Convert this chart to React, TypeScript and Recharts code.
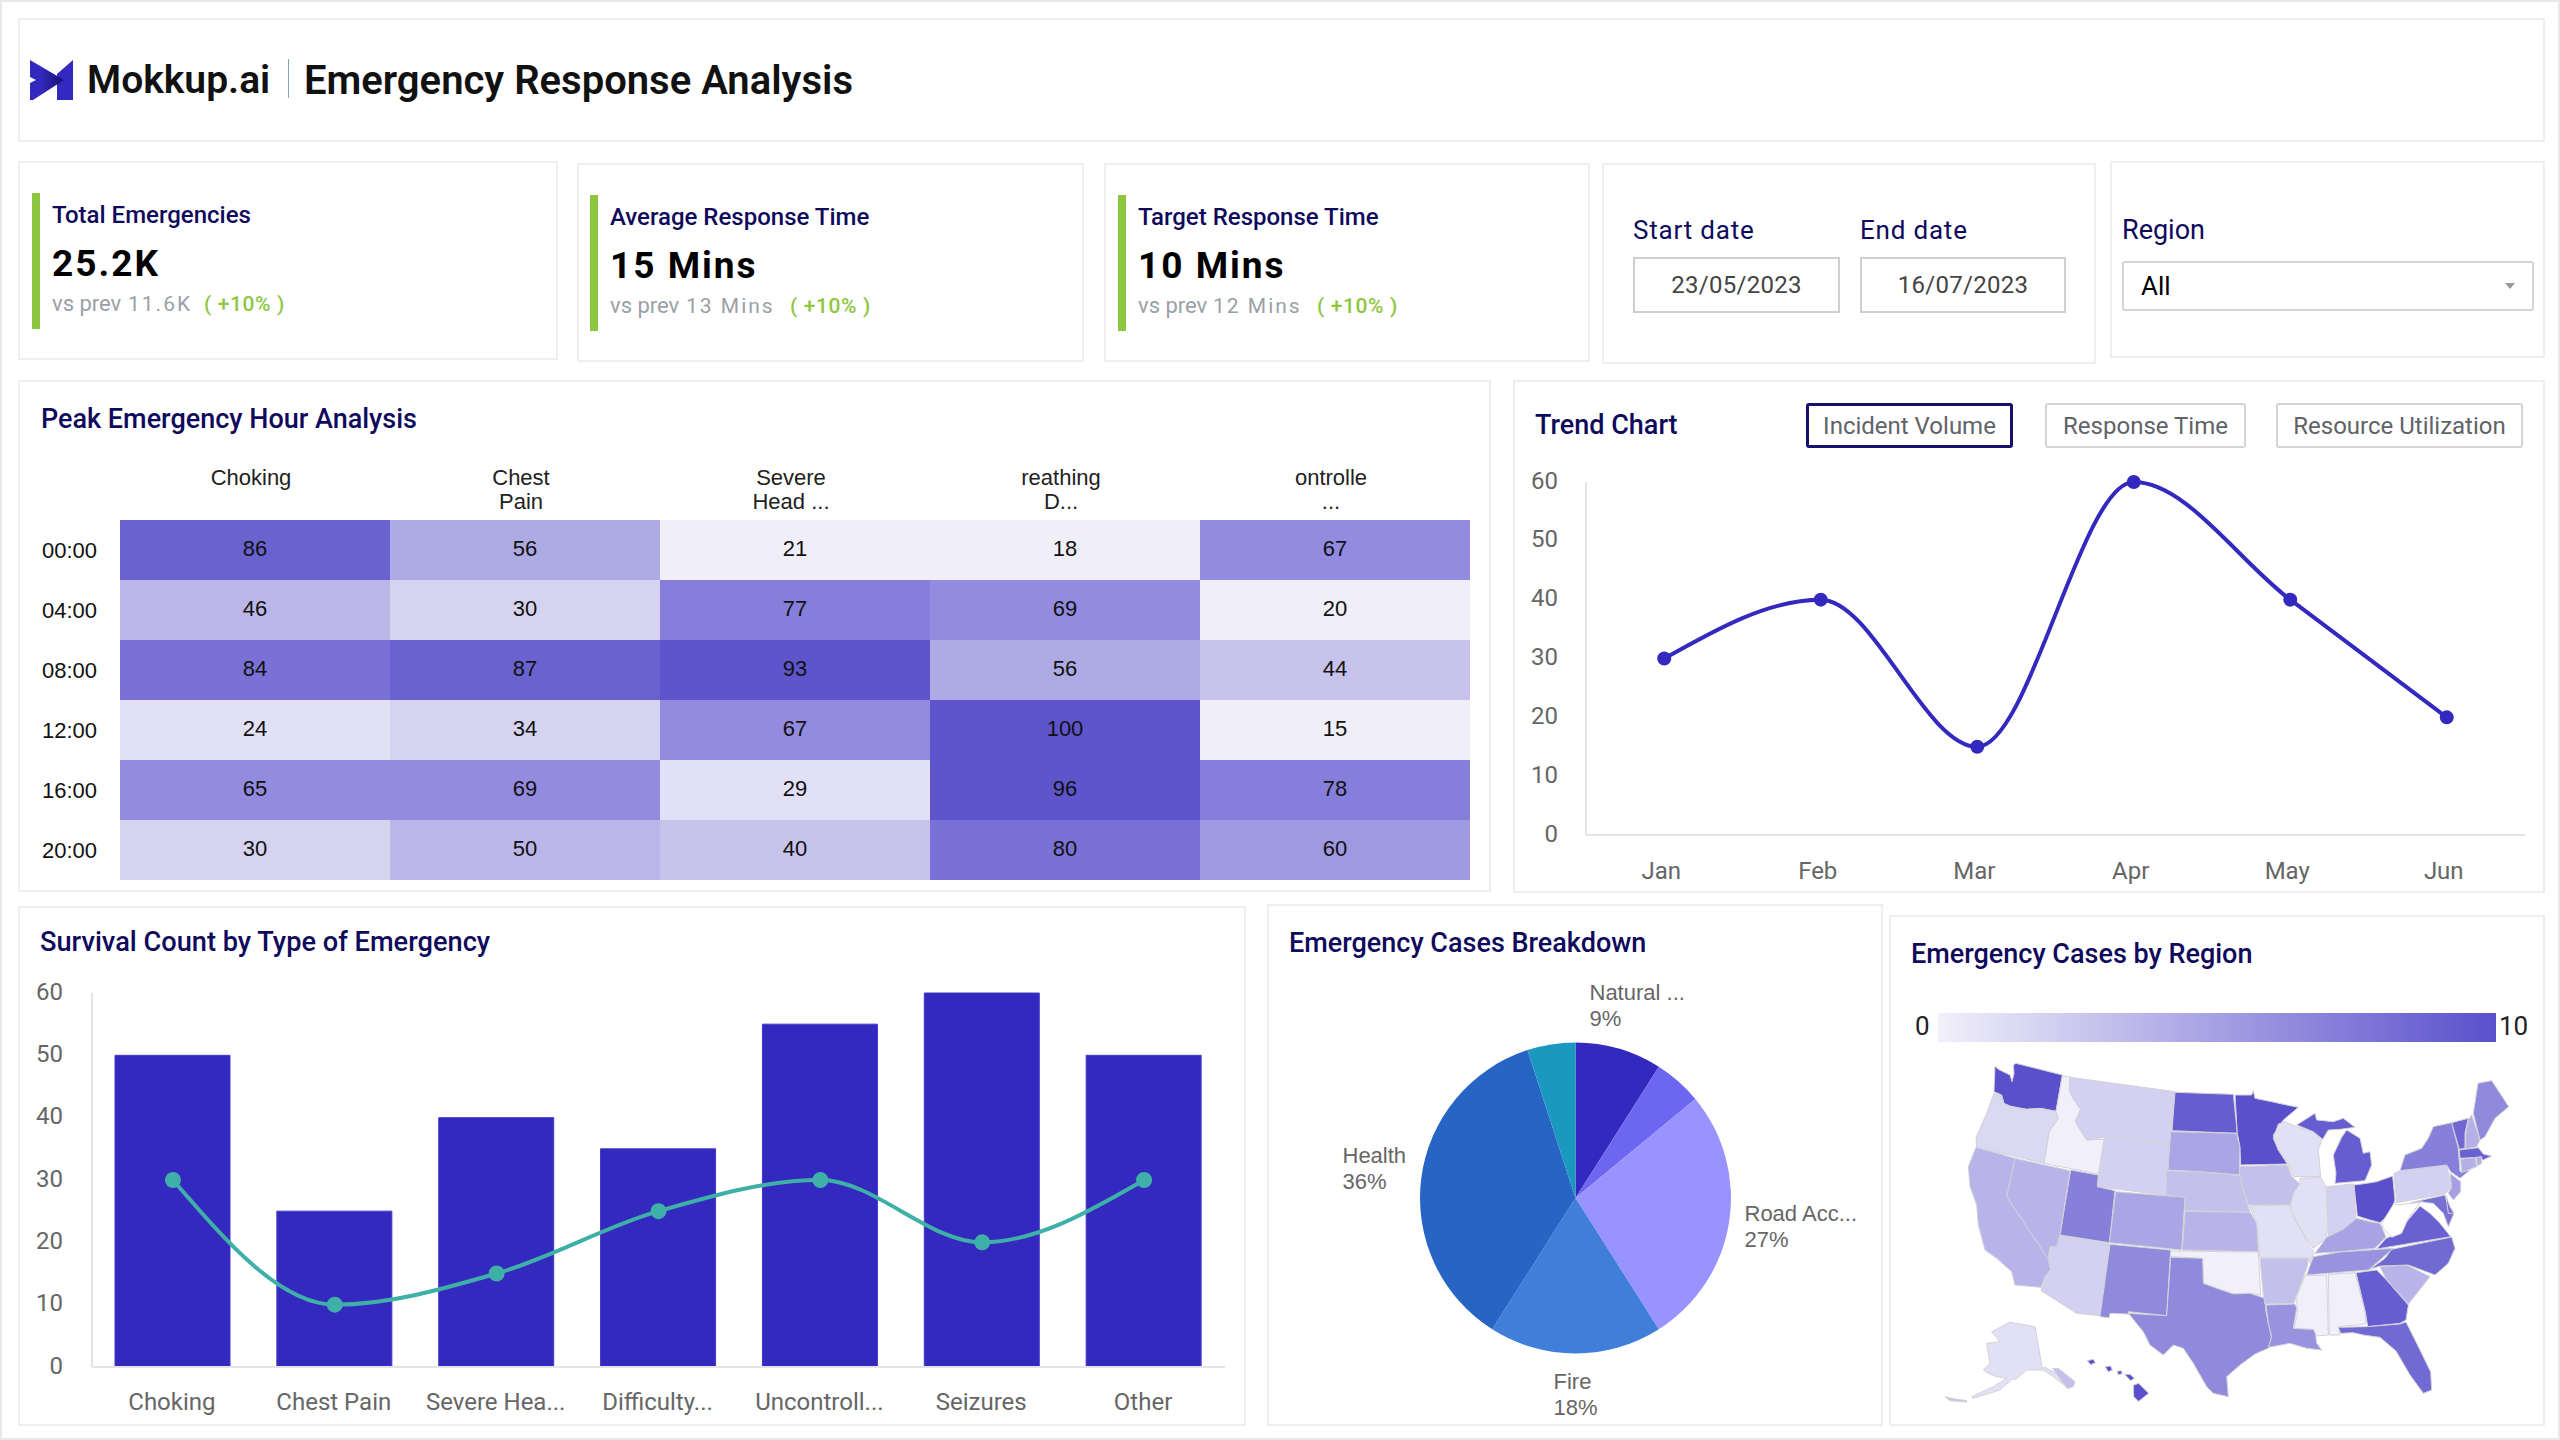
import { Bar, BarChart, Cell, ComposedChart, LabelList, Line, LineChart, Pie, PieChart, Scatter, ScatterChart, XAxis, YAxis } from 'recharts'

// heatmap
const hourLabels = ['00:00', '04:00', '08:00', '12:00', '16:00', '20:00']
const heatHeaders = [['Choking'], ['Chest', 'Pain'], ['Severe', 'Head ...'], ['reathing', 'D...'], ['ontrolle', '...']]
const heatValues = [
  [86, 56, 21, 18, 67],
  [46, 30, 77, 69, 20],
  [84, 87, 93, 56, 44],
  [24, 34, 67, 100, 15],
  [65, 69, 29, 96, 78],
  [30, 50, 40, 80, 60],
]

// trend
const trendMonths = ['Jan', 'Feb', 'Mar', 'Apr', 'May', 'Jun']
const trendValues = [30, 40, 15, 60, 40, 20]

// survival
const survivalTypes = ['Choking', 'Chest Pain', 'Severe Hea...', 'Difficulty...', 'Uncontroll...', 'Seizures', 'Other']
const survivalBars = [50, 25, 40, 35, 55, 60, 50]
const survivalLine = [30, 10, 15, 25, 30, 20, 30]

// breakdown
const caseNames = ['Natural ...', 'Other A', 'Road Acc...', 'Fire', 'Health', 'Other B']
const caseShares = [9, 5, 27, 18, 36, 5]
const caseColors = ['#3429bf', '#6c66f0', '#9993ff', '#3f7fd9', '#2765c4', '#1a98c0']

// map: one value per outline, outlines in map units
const stateCases = [
  10, 1.5, 0, 2, 2, 9.2, 4.7, 3, 3.8, 4.7, 7, 3.8, 3.8, 2, 6.4, 0, 6.4,
  10, 3, 1, 9.2, 9.2, 1, 2, 10, 1, 4.8, 5.8, 3, 5.8, 0, 0, 9.2, 8.4, 3.8, 8.4, 9, -0.9,
  2, 8, 8, 5, 7, 8.5, 4, 6.4, 9, 4, 4, 1, 10, 10, 10, 10, 10, 3, 3,
]
const stateOutlines = [
  [[195, 48], [205, 58], [240, 75], [246, 95], [252, 70], [250, 45], [258, 40], [397, 75], [378, 184], [330, 175], [290, 178], [240, 168], [222, 160], [215, 135], [192, 125]], // WA
  [[192, 130], [215, 138], [222, 162], [240, 170], [290, 178], [330, 175], [378, 184], [385, 205], [358, 245], [342, 340], [140, 292], [138, 262], [170, 190]], // OR
  [[397, 78], [420, 80], [418, 120], [432, 150], [452, 178], [436, 215], [470, 270], [522, 268], [505, 372], [342, 340], [358, 245], [385, 205], [378, 184]], // ID
  [[420, 82], [735, 125], [720, 278], [525, 262], [470, 270], [436, 215], [452, 178], [432, 150], [418, 120]], // MT
  [[525, 262], [718, 280], [708, 436], [502, 410]], // WY
  [[735, 127], [910, 133], [922, 250], [726, 242]], // ND
  [[722, 245], [920, 250], [930, 290], [928, 375], [895, 372], [810, 365], [714, 360]], // SD
  [[710, 362], [810, 366], [895, 373], [930, 378], [940, 420], [955, 470], [960, 487], [765, 482], [765, 442], [708, 436]], // NE
  [[765, 484], [960, 487], [980, 520], [985, 605], [757, 600]], // KS
  [[557, 425], [765, 442], [755, 600], [538, 578]], // CO
  [[422, 360], [505, 375], [502, 410], [555, 422], [538, 578], [390, 555]], // UT
  [[255, 325], [420, 362], [390, 555], [380, 590], [360, 590], [355, 628], [230, 440]], // NV
  [[138, 292], [255, 325], [230, 440], [355, 628], [362, 658], [345, 680], [333, 712], [255, 705], [245, 665], [200, 625], [165, 600], [145, 525], [140, 465], [120, 410], [115, 350]], // CA
  [[390, 558], [538, 580], [510, 797], [440, 790], [333, 722], [345, 685], [362, 658], [355, 628], [360, 590], [380, 590]], // AZ
  [[540, 583], [722, 600], [710, 797], [595, 785], [597, 792], [540, 790], [538, 803], [510, 800]], // NM
  [[722, 603], [985, 606], [992, 735], [960, 730], [910, 732], [860, 715], [820, 700], [818, 625], [722, 620]], // OK
  [[722, 622], [818, 625], [820, 700], [860, 715], [910, 732], [960, 730], [1005, 745], [1007, 780], [1015, 820], [1024, 860], [1018, 893], [975, 912], [930, 945], [890, 980], [895, 1040], [850, 1030], [830, 1010], [790, 940], [760, 895], [730, 885], [700, 915], [660, 885], [640, 845], [595, 790], [710, 797]], // TX
  [[915, 135], [965, 135], [970, 122], [975, 145], [1025, 155], [1070, 165], [1105, 172], [1060, 210], [1030, 255], [1045, 300], [1072, 342], [932, 345], [930, 290], [922, 250]], // MN
  [[928, 350], [1072, 345], [1085, 380], [1110, 402], [1090, 430], [1080, 465], [955, 465], [940, 420], [930, 378]], // IA
  [[1030, 265], [1045, 222], [1065, 215], [1100, 230], [1150, 245], [1175, 270], [1165, 300], [1172, 380], [1090, 380], [1072, 335], [1045, 300]], // WI
  [[1100, 225], [1155, 190], [1160, 210], [1210, 215], [1240, 205], [1275, 232], [1230, 238], [1195, 240], [1178, 268], [1150, 245]], // MI upper
  [[1210, 315], [1235, 262], [1250, 240], [1290, 265], [1300, 310], [1320, 305], [1325, 345], [1305, 392], [1215, 400], [1218, 370]], // MI lower
  [[1110, 385], [1172, 382], [1188, 410], [1195, 510], [1188, 565], [1150, 595], [1120, 550], [1080, 480], [1090, 430], [1110, 400]], // IL
  [[1190, 410], [1270, 402], [1278, 505], [1240, 535], [1195, 558]], // IN
  [[1272, 405], [1310, 400], [1340, 395], [1388, 378], [1395, 450], [1380, 490], [1350, 518], [1320, 510], [1282, 498]], // OH
  [[958, 468], [1078, 465], [1095, 510], [1140, 590], [1152, 605], [1140, 640], [1135, 622], [988, 622], [982, 525]], // MO
  [[1155, 610], [1190, 562], [1240, 537], [1280, 505], [1320, 515], [1350, 520], [1368, 560], [1335, 595], [1230, 605]], // KY
  [[1150, 620], [1230, 606], [1390, 595], [1350, 630], [1315, 660], [1130, 675]], // TN
  [[990, 625], [1135, 625], [1132, 650], [1100, 735], [1092, 760], [1005, 762], [1000, 735]], // AR
  [[1008, 765], [1095, 762], [1100, 775], [1090, 835], [1155, 838], [1160, 880], [1175, 900], [1130, 895], [1080, 880], [1015, 892], [1025, 860], [1015, 820]], // LA
  [[1125, 677], [1190, 675], [1195, 855], [1160, 858], [1150, 838], [1092, 835], [1102, 790], [1100, 740]], // MS
  [[1195, 673], [1275, 668], [1307, 790], [1307, 822], [1225, 830], [1230, 855], [1198, 855]], // AL
  [[1278, 668], [1340, 660], [1370, 690], [1435, 765], [1428, 810], [1410, 820], [1313, 830], [1307, 790]], // GA
  [[1225, 832], [1310, 830], [1410, 822], [1428, 816], [1470, 900], [1502, 966], [1505, 1020], [1480, 1030], [1440, 975], [1398, 903], [1350, 862], [1300, 855], [1270, 848], [1232, 850]], // FL
  [[1350, 650], [1430, 645], [1500, 680], [1435, 762], [1370, 690]], // SC
  [[1320, 658], [1365, 625], [1385, 598], [1565, 561], [1575, 595], [1555, 640], [1515, 675], [1435, 645], [1350, 648]], // NC
  [[1340, 597], [1368, 565], [1410, 548], [1430, 515], [1470, 468], [1500, 490], [1530, 520], [1562, 560]], // VA
  [[1355, 520], [1395, 455], [1400, 465], [1440, 460], [1470, 458], [1435, 505], [1415, 550], [1385, 562], [1360, 535]], // WV
  [[1392, 370], [1410, 362], [1550, 345], [1565, 410], [1545, 432], [1400, 458]], // PA
  [[1440, 458], [1545, 435], [1555, 470], [1572, 490], [1555, 530], [1540, 490], [1510, 460], [1490, 458], [1475, 455]], // MD
  [[1547, 435], [1560, 470], [1572, 490], [1555, 490]], // DE
  [[1560, 370], [1592, 395], [1592, 425], [1570, 450], [1555, 430], [1565, 410]], // NJ
  [[1410, 362], [1425, 315], [1475, 295], [1495, 265], [1510, 230], [1565, 218], [1585, 295], [1590, 365], [1620, 360], [1590, 385], [1562, 365], [1550, 345]], // NY
  [[1565, 218], [1615, 205], [1605, 250], [1605, 295], [1588, 298]], // VT
  [[1615, 210], [1625, 195], [1650, 270], [1640, 290], [1607, 297], [1607, 255]], // NH
  [[1630, 190], [1644, 100], [1685, 92], [1710, 130], [1736, 170], [1695, 205], [1665, 260], [1650, 270]], // ME
  [[1588, 300], [1645, 293], [1660, 312], [1685, 318], [1660, 330], [1648, 322], [1590, 325]], // MA
  [[1592, 328], [1635, 322], [1640, 350], [1595, 368]], // CT
  [[1638, 322], [1655, 320], [1655, 340], [1642, 348]], // RI
  [[185, 845], [240, 817], [315, 830], [337, 955], [345, 952], [380, 970], [430, 1000], [415, 1015], [370, 980], [340, 960], [290, 960], [255, 990], [250, 985], [210, 1020], [130, 1045], [125, 1040], [190, 1010], [230, 985], [200, 980], [175, 970], [160, 960], [180, 940], [170, 880], [210, 875]], // AK
  [[472, 932], [490, 928], [496, 938], [482, 944]], // HI
  [[526, 950], [542, 948], [547, 960], [534, 965]], // HI
  [[561, 964], [574, 962], [577, 971], [565, 974]], // HI
  [[584, 973], [600, 973], [613, 985], [602, 992]], // HI
  [[610, 1006], [626, 1000], [656, 1030], [626, 1054], [611, 1040]], // HI
  [[368, 955], [385, 955], [435, 995], [430, 1010], [412, 1016]], // AK panhandle
  [[45, 1040], [70, 1046], [110, 1052], [110, 1056], [60, 1052]], // AK islands
]

const heatSteps: [number, string][] = [
  [21, '#f0eff9'], [29, '#e2e0f5'], [39, '#d6d3f1'], [45, '#c7c3ec'], [50, '#bab6e8'], [56, '#aeaae3'],
  [60, '#9f99e1'], [69, '#928be0'], [78, '#857edb'], [84, '#7971d6'], [87, '#6a63cf'], [100, '#5e55cc'],
]
const heatColor = (v: number) => heatSteps.find(s => v <= s[0])![1]

const lerp = (a: number, b: number, t: number) => Math.round(a + (b - a) * t)
const caseColor = (v: number) => {
  const t = v / 10
  return `rgb(${lerp(241, 90, t)},${lerp(240, 80, t)},${lerp(250, 204, t)})`
}

const heatRows = hourLabels.map((hour, r) => {
  const row: Record<string, number | string> = { hour }
  heatHeaders.forEach((_, c) => {
    row[`unit${c}`] = 1
    row[`value${c}`] = heatValues[r][c]
  })
  return row
})
const trendData = trendMonths.map((month, i) => ({ month, value: trendValues[i] }))
const survivalData = survivalTypes.map((type, i) => ({ type, count: survivalBars[i], rate: survivalLine[i] }))
const caseData = caseNames.map((name, i) => ({ name, value: caseShares[i] }))

const NAVY = '#0f0a5c'
const AXIS = '#e4e4e4'
const TICK = '#666666'
const INDIGO = '#3429bf'
const GREEN = '#8dc63f'
const ROBOTO = 'Roboto, sans-serif'
const ARIAL = '"Liberation Sans", sans-serif'

function Card({ x, y, r, b }: { x: number; y: number; r: number; b: number }) {
  return <div style={{ position: 'absolute', left: x, top: y, width: r - x, height: b - y, boxSizing: 'border-box', border: '2px solid #eeeeee', background: '#fff' }} />
}

function T({ x, cy, size, color = '#000', weight = 400, spacing = 0, font = ROBOTO, children }: any) {
  return (
    <div style={{ position: 'absolute', left: x, top: cy, transform: 'translateY(-50%)', fontFamily: font, fontSize: size, color, fontWeight: weight, letterSpacing: spacing, whiteSpace: 'nowrap', lineHeight: 1 }}>
      {children}
    </div>
  )
}

function Kpi({ barX, top, title, value, prev, prevX, gainX }: any) {
  const textX = barX + 20
  return (
    <>
      <div style={{ position: 'absolute', left: barX, top, width: 8, height: 136, background: GREEN }} />
      <T x={textX} cy={top + 22} size={24} color={NAVY} weight={500}>{title}</T>
      <T x={textX} cy={top + 70} size={37} weight={700} spacing={2}>{value}</T>
      <T x={textX} cy={top + 111} size={22} color="#9aa0a8">vs prev</T>
      <T x={prevX} cy={top + 111} size={21} color="#9aa0a8" spacing={2}>{prev}</T>
      <T x={gainX} cy={top + 111} size={21} color={GREEN} weight={500} spacing={0.6}>( +10% )</T>
    </>
  )
}

function Button({ x, r, active, children }: any) {
  return (
    <div style={{ position: 'absolute', left: x, top: 403, width: r - x, height: 45, boxSizing: 'border-box', border: active ? '3px solid #15106a' : '2px solid #d4d4d4', borderRadius: 3, fontFamily: ROBOTO, fontSize: 24, color: '#5f6368', display: 'flex', alignItems: 'center', justifyContent: 'center' }}>
      {children}
    </div>
  )
}

function Field({ x, r, top, h, children }: any) {
  return (
    <div style={{ position: 'absolute', left: x, top, width: r - x, height: h, boxSizing: 'border-box', border: '2px solid #cfcfcf', fontFamily: ROBOTO, fontSize: 24, color: '#444', display: 'flex', alignItems: 'center', justifyContent: 'center', letterSpacing: 0.3 }}>
      {children}
    </div>
  )
}

function HeatHeaderTick({ x, y, payload }: any) {
  const lines = heatHeaders[Math.floor(payload.value)]
  return (
    <text x={x - 4} y={y - 27} textAnchor="middle" fontFamily={ARIAL} fontSize={22} fill="#222">
      {lines.map((line, i) => (
        <tspan key={i} x={x - 4} dy={i === 0 ? 0 : 24}>{line}</tspan>
      ))}
    </text>
  )
}

const pieLabelOffsets: Record<string, { dx: number; dy: number; share: string }> = {
  'Natural ...': { dx: 14, dy: -206, share: '9%' },
  'Road Acc...': { dx: 169, dy: 15, share: '27%' },
  Fire: { dx: -22, dy: 183, share: '18%' },
  Health: { dx: -233, dy: -43, share: '36%' },
}

function PieLabel({ cx, cy, name }: any) {
  const pos = pieLabelOffsets[name]
  if (!pos) return null
  return (
    <text x={cx + pos.dx} y={cy + pos.dy + 8} fontFamily={ARIAL} fontSize={22} fill={TICK}>
      <tspan x={cx + pos.dx}>{name}</tspan>
      <tspan x={cx + pos.dx} dy={26}>{pos.share}</tspan>
    </text>
  )
}

const NoDot = () => null

function Logo() {
  return (
    <svg style={{ position: 'absolute', left: 30, top: 59 }} width={44} height={42} viewBox="0 0 44 42">
      <defs>
        <linearGradient id="logoFold" x1="0" y1="0" x2="1" y2="0">
          <stop offset="0.3" stopColor={INDIGO} />
          <stop offset="1" stopColor="#171070" />
        </linearGradient>
      </defs>
      <polygon points="27,15 43,1 43,41 27,41" fill={INDIGO} />
      <polygon points="0,1 34,21 3,41 0,41 0,24 6,21 0,18" fill="url(#logoFold)" />
    </svg>
  )
}

export default function App() {
  return (
    <div style={{ position: 'absolute', left: 0, top: 0, width: 2560, height: 1440, overflow: 'hidden', background: '#fff', fontFamily: ROBOTO }}>
      <div style={{ position: 'absolute', inset: 0, boxSizing: 'border-box', border: '2px solid #e8e8e8' }} />

      <Card x={18} y={18} r={2545} b={142} />
      <Card x={18} y={161} r={558} b={360} />
      <Card x={577} y={163} r={1084} b={362} />
      <Card x={1104} y={163} r={1590} b={362} />
      <Card x={1602} y={163} r={2096} b={364} />
      <Card x={2110} y={161} r={2545} b={358} />
      <Card x={18} y={380} r={1491} b={892} />
      <Card x={1513} y={380} r={2545} b={893} />
      <Card x={18} y={906} r={1246} b={1426} />
      <Card x={1267} y={904} r={1883} b={1426} />
      <Card x={1889} y={915} r={2545} b={1426} />

      {/* header */}
      <Logo />
      <T x={87} cy={80} size={39} color="#111" weight={600}>Mokkup.ai</T>
      <div style={{ position: 'absolute', left: 288, top: 59, width: 1, height: 39, background: '#7fa6b5' }} />
      <T x={304} cy={81} size={40} color="#111" weight={600}>Emergency Response Analysis</T>

      {/* KPIs */}
      <Kpi barX={32} top={193} title="Total Emergencies" value="25.2K" prev="11.6K" prevX={128} gainX={204} />
      <Kpi barX={590} top={195} title="Average Response Time" value="15 Mins" prev="13 Mins" prevX={686} gainX={790} />
      <Kpi barX={1118} top={195} title="Target Response Time" value="10 Mins" prev="12 Mins" prevX={1213} gainX={1317} />

      {/* filters */}
      <T x={1633} cy={230} size={26} color={NAVY} spacing={0.8}>Start date</T>
      <T x={1860} cy={230} size={26} color={NAVY} spacing={0.8}>End date</T>
      <Field x={1633} r={1840} top={257} h={56}>23/05/2023</Field>
      <Field x={1860} r={2066} top={257} h={56}>16/07/2023</Field>
      <T x={2122} cy={230} size={27} color={NAVY}>Region</T>
      <div style={{ position: 'absolute', left: 2122, top: 261, width: 412, height: 50, boxSizing: 'border-box', border: '2px solid #d4d4d4', borderRadius: 3 }} />
      <T x={2141} cy={286} size={26}>All</T>
      <div style={{ position: 'absolute', left: 2505, top: 283, width: 0, height: 0, borderLeft: '5px solid transparent', borderRight: '5px solid transparent', borderTop: '6px solid #999' }} />

      {/* heatmap */}
      <T x={41} cy={419} size={27} color={NAVY} weight={500}>Peak Emergency Hour Analysis</T>
      <div style={{ position: 'absolute', left: 20, top: 440 }}>
        <BarChart width={1450} height={450} data={heatRows} layout="vertical" barCategoryGap={0} margin={{ top: 0, right: 0, bottom: 10, left: 0 }}>
          <XAxis type="number" orientation="top" domain={[0, 5]} ticks={[0.5, 1.5, 2.5, 3.5, 4.5]} height={80} axisLine={false} tickLine={false} tick={<HeatHeaderTick />} interval={0} />
          <YAxis type="category" dataKey="hour" width={100} axisLine={false} tickLine={false} tickMargin={17} interval={0} tick={{ fontFamily: ARIAL, fontSize: 22, fill: '#111' }} />
          {heatHeaders.map((_, c) => (
            <Bar key={c} dataKey={`unit${c}`} stackId="heat" isAnimationActive={false}>
              {heatValues.map((row, r) => (
                <Cell key={r} fill={heatColor(row[c])} />
              ))}
              <LabelList dataKey={`value${c}`} position="center" fontFamily={ARIAL} fontSize={22} fill="#111" dy={-2} />
            </Bar>
          ))}
        </BarChart>
      </div>

      {/* trend */}
      <T x={1535} cy={425} size={27} color={NAVY} weight={500}>Trend Chart</T>
      <Button x={1806} r={2013} active>Incident Volume</Button>
      <Button x={2045} r={2246}>Response Time</Button>
      <Button x={2276} r={2523}>Resource Utilization</Button>
      <div style={{ position: 'absolute', left: 1520, top: 460 }}>
        <LineChart width={1020} height={430} data={trendData} margin={{ top: 22, right: 15, bottom: 0, left: 0 }}>
          <XAxis dataKey="month" scale="band" height={55} stroke={AXIS} strokeWidth={2} tickLine={false} tickMargin={21} tick={{ fontFamily: ROBOTO, fontSize: 24, fill: TICK, dx: -3 }} />
          <YAxis width={66} domain={[0, 60]} ticks={[0, 10, 20, 30, 40, 50, 60]} stroke={AXIS} strokeWidth={2} tickLine={false} tickMargin={22} tick={{ fontFamily: ROBOTO, fontSize: 24, fill: TICK, dy: -2 }} />
          <Line type="monotone" dataKey="value" stroke={INDIGO} strokeWidth={4} dot={{ r: 5, fill: INDIGO, stroke: INDIGO }} isAnimationActive={false} />
        </LineChart>
      </div>

      {/* survival */}
      <T x={40} cy={943} size={27.2} color={NAVY} weight={500}>Survival Count by Type of Emergency</T>
      <div style={{ position: 'absolute', left: 20, top: 970 }}>
        <ComposedChart width={1215} height={450} data={survivalData} margin={{ top: 23, right: 10, bottom: 0, left: 0 }}>
          <XAxis dataKey="type" height={53} interval={0} stroke={AXIS} strokeWidth={2} tickLine={false} tickMargin={20} tick={{ fontFamily: ROBOTO, fontSize: 24, fill: TICK, dx: -1 }} />
          <YAxis width={72} domain={[0, 60]} ticks={[0, 10, 20, 30, 40, 50, 60]} stroke={AXIS} strokeWidth={2} tickLine={false} tickMargin={23} tick={{ fontFamily: ROBOTO, fontSize: 24, fill: TICK, dy: -2 }} />
          <Bar dataKey="count" barSize={115} fill={INDIGO} stroke="#4338c9" strokeWidth={1} isAnimationActive={false} />
          <Line type="monotone" dataKey="rate" stroke="#3fb0a8" strokeWidth={4} dot={{ r: 6, fill: '#3fb0a8', stroke: '#3fb0a8' }} isAnimationActive={false} />
        </ComposedChart>
      </div>

      {/* breakdown */}
      <T x={1289} cy={943} size={27} color={NAVY} weight={500}>Emergency Cases Breakdown</T>
      <div style={{ position: 'absolute', left: 1270, top: 960 }}>
        <PieChart width={610} height={460} margin={{ top: 0, right: 0, bottom: 0, left: 0 }}>
          <Pie data={caseData} dataKey="value" nameKey="name" cx={305.5} cy={238} outerRadius={155.5} startAngle={90} endAngle={-270} stroke="none" label={<PieLabel />} labelLine={false} isAnimationActive={false}>
            {caseData.map((_, i) => (
              <Cell key={i} fill={caseColors[i]} />
            ))}
          </Pie>
        </PieChart>
      </div>

      {/* map */}
      <T x={1911} cy={954} size={27} color={NAVY} weight={500}>Emergency Cases by Region</T>
      <T x={1915} cy={1026} size={26} color="#222">0</T>
      <div style={{ position: 'absolute', left: 1938, top: 1013, width: 558, height: 29, background: 'linear-gradient(to right, #f1f0fa, #5a50cc)' }} />
      <T x={2499} cy={1026} size={26} color="#222">10</T>
      <div style={{ position: 'absolute', left: 1930, top: 1050 }}>
        <ScatterChart width={600} height={370} margin={{ top: 0, right: 0, bottom: 0, left: 0 }}>
          <XAxis type="number" dataKey="x" domain={[0, 1800]} hide />
          <YAxis type="number" dataKey="y" domain={[0, 1110]} reversed hide />
          {stateOutlines.map((outline, i) => (
            <Scatter
              key={i}
              data={outline.map(([x, y]) => ({ x, y }))}
              shape={NoDot}
              line={{ fill: caseColor(stateCases[i]), stroke: '#d2d2d8', strokeWidth: 1 }}
              lineJointType="linearClosed"
              isAnimationActive={false}
            />
          ))}
        </ScatterChart>
      </div>
    </div>
  )
}
